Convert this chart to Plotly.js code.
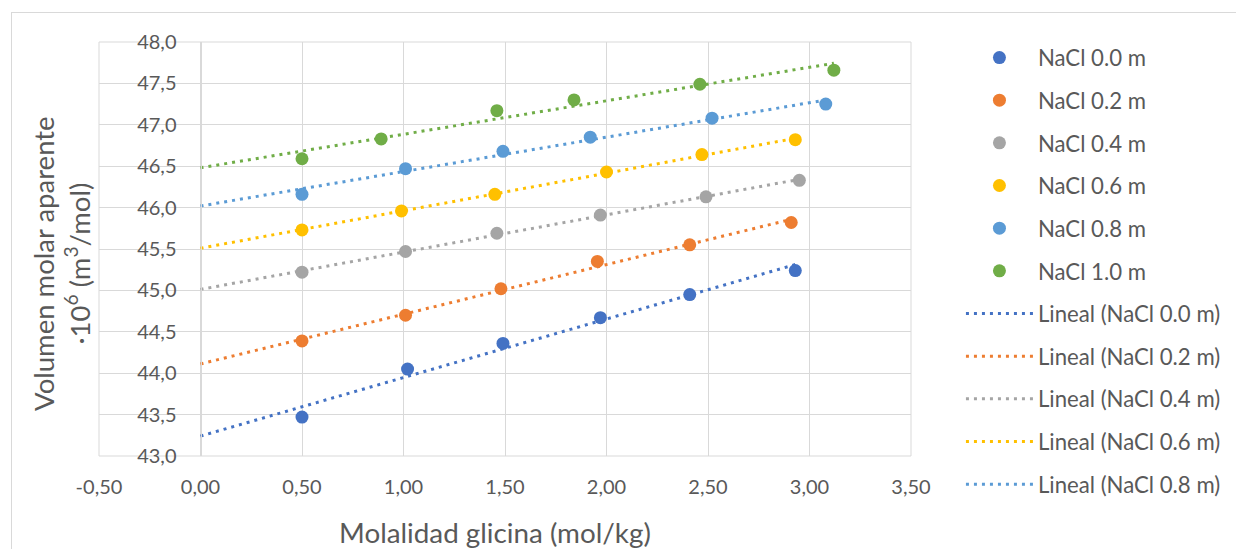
<!DOCTYPE html>
<html>
<head>
<meta charset="utf-8">
<script src="https://cdn.plot.ly/plotly-3.0.1.min.js"></script>
<style>
html,body{margin:0;padding:0;background:#fff;overflow:hidden;width:1236px;height:549px;}
#frame{position:absolute;left:11px;top:12px;width:1300px;height:600px;border:1px solid #d9d9d9;}
#chart{width:1300px;height:600px;}
</style>
</head>
<body>
<div id="frame"><div id="chart"></div></div>
<script>
// Series names and colours
const seriesNames = ["NaCl 0.0 m","NaCl 0.2 m","NaCl 0.4 m","NaCl 0.6 m","NaCl 0.8 m","NaCl 1.0 m"];
const seriesColors = ["#4472C4","#ED7D31","#A5A5A5","#FFC000","#5B9BD5","#70AD47"];

// Molalidad glicina (mol/kg)
const x00 = [0.50, 1.02, 1.49, 1.97, 2.41, 2.93];
const x02 = [0.50, 1.01, 1.48, 1.955, 2.41, 2.91];
const x04 = [0.50, 1.01, 1.46, 1.97, 2.49, 2.95];
const x06 = [0.50, 0.99, 1.45, 2.00, 2.47, 2.93];
const x08 = [0.50, 1.01, 1.49, 1.92, 2.52, 3.08];
const x10 = [0.50, 0.89, 1.46, 1.84, 2.46, 3.12];

// Volumen molar aparente ·10^6 (m3/mol)
const y00 = [43.47, 44.05, 44.36, 44.67, 44.95, 45.24];
const y02 = [44.39, 44.70, 45.02, 45.35, 45.55, 45.82];
const y04 = [45.22, 45.47, 45.69, 45.91, 46.13, 46.33];
const y06 = [45.73, 45.96, 46.16, 46.43, 46.64, 46.82];
const y08 = [46.16, 46.47, 46.68, 46.85, 47.08, 47.25];
const y10 = [46.59, 46.83, 47.17, 47.30, 47.49, 47.66];

// Tick values and labels
const xTickVals = [-0.5, 0, 0.5, 1, 1.5, 2, 2.5, 3, 3.5];
const xTickLabels = ["-0,50","0,00","0,50","1,00","1,50","2,00","2,50","3,00","3,50"];
const yTickVals = [43, 43.5, 44, 44.5, 45, 45.5, 46, 46.5, 47, 47.5, 48];
const yTickLabels = ["43,0","43,5","44,0","44,5","45,0","45,5","46,0","46,5","47,0","47,5","48,0"];

const xs = [x00, x02, x04, x06, x08, x10];
const ys = [y00, y02, y04, y06, y08, y10];

// Trendline start (Excel backward forecast to x = 0)
const trendStartX = 0;

function linfit(x, y) {
  const n = x.length;
  const mx = x.reduce((a,b)=>a+b,0)/n;
  const my = y.reduce((a,b)=>a+b,0)/n;
  let sxy = 0, sxx = 0;
  for (let i = 0; i < n; i++) { sxy += (x[i]-mx)*(y[i]-my); sxx += (x[i]-mx)*(x[i]-mx); }
  const m = sxy/sxx;
  return {m: m, b: my - m*mx};
}

const font = "Lato, 'Open Sans', sans-serif";
const textColor = "#595959";
const traces = [];

seriesNames.forEach((name, i) => {
  traces.push({
    type: "scatter", mode: "markers", name: name,
    x: xs[i], y: ys[i],
    marker: {color: seriesColors[i], size: 13},
    legendgroup: "g" + i
  });
});
seriesNames.forEach((name, i) => {
  const f = linfit(xs[i], ys[i]);
  const xEnd = Math.max.apply(null, xs[i]);
  traces.push({
    type: "scatter", mode: "lines", name: "Lineal (" + name + ")",
    x: [trendStartX, xEnd], y: [f.b + f.m*trendStartX, f.b + f.m*xEnd],
    line: {color: seriesColors[i], width: 3, dash: "3px,5px"},
    legendgroup: "t" + i,
    showlegend: i < 5
  });
});

const xMin = -0.5, xMax = 3.5;

const layout = {
  width: 1300, height: 600,
  margin: {l: 87, r: 401, t: 29, b: 157},
  paper_bgcolor: "#ffffff", plot_bgcolor: "#ffffff",
  separators: ",.",
  font: {family: font, color: textColor, size: 20},
  showlegend: true,
  legend: {
    x: 1.0615, xanchor: "left", y: 1.013, yanchor: "top",
    traceorder: "grouped", tracegroupgap: 10.8,
    itemwidth: 67,
    maxheight: 600,
    font: {family: font, size: 22.2, color: textColor},
    bgcolor: "rgba(0,0,0,0)"
  },
  xaxis: {
    range: [xMin, xMax], tickmode: "array", tickvals: xTickVals, ticktext: xTickLabels,
    showgrid: true, gridcolor: "#d9d9d9", gridwidth: 1,
    zeroline: false, showline: false,
    ticks: "", ticklabelstandoff: 17,
    tickfont: {family: font, size: 20, color: textColor}
  },
  yaxis: {
    range: [43, 48], tickmode: "array", tickvals: yTickVals, ticktext: yTickLabels,
    anchor: "free", position: (0 - xMin)/(xMax - xMin),
    showgrid: true, gridcolor: "#d9d9d9", gridwidth: 1,
    zeroline: false, showline: true, linecolor: "#d9d9d9", linewidth: 1,
    ticks: "", ticklabelstandoff: 20,
    tickfont: {family: font, size: 20, color: textColor}
  },
  shapes: [{
    type: "rect", xref: "paper", yref: "paper", x0: 0, x1: 1, y0: 0, y1: 1,
    line: {color: "#d9d9d9", width: 1}, fillcolor: "rgba(0,0,0,0)", layer: "below"
  }],
  annotations: [
    {
      text: "Volumen molar aparente<br>·10<sup>6</sup> (m<sup>3</sup>/mol)",
      xref: "paper", yref: "paper", x: -0.047, y: 0.466,
      xanchor: "center", yanchor: "middle", textangle: -90, showarrow: false,
      font: {family: font, size: 27.5, color: textColor}
    },
    {
      text: "Molalidad glicina (mol/kg)",
      xref: "paper", yref: "paper", x: 0.4877, y: -0.1836,
      xanchor: "center", yanchor: "middle", showarrow: false,
      font: {family: font, size: 27.8, color: textColor}
    }
  ]
};

Plotly.newPlot("chart", traces, layout, {displayModeBar: false, staticPlot: true});
</script>
</body>
</html>
